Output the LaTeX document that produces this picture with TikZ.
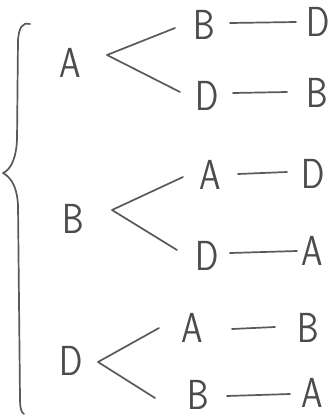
\documentclass[tikz,border=0pt]{standalone}
\begin{document}
\begin{tikzpicture}[x=1pt,y=-1pt,
  ink/.style={draw=black!65, line width=1.7pt, line cap=round, line join=round},
  letter/.style={inner sep=0pt, text=black!70, font=\sffamily\fontsize{42}{42}\selectfont, xscale=0.82}]
\useasboundingbox (0,0) rectangle (329,418);
% level 1
\node[letter] (A) at (70,63) {A};
\node[letter] (B) at (73,219) {B};
\node[letter] (D) at (71,361) {D};
% level 2
\node[letter] (AB) at (204,25) {B};
\node[letter] (AD) at (207,96) {D};
\node[letter] (BA) at (210,175) {A};
\node[letter] (BD) at (207,256) {D};
\node[letter] (DA) at (192,328) {A};
\node[letter] (DB) at (198,395) {B};
% level 3
\node[letter] (ABD) at (318,22) {D};
\node[letter] (ADB) at (317,93) {B};
\node[letter] (BAD) at (313,174) {D};
\node[letter] (BDA) at (312,251) {A};
\node[letter] (DAB) at (308,328) {B};
\node[letter] (DBA) at (312,393) {A};
% branch coordinates
\coordinate (vA) at (107,55);  \coordinate (vAu) at (175,28); \coordinate (vAd) at (180,92);
\coordinate (vB) at (112,210); \coordinate (vBu) at (183,177); \coordinate (vBd) at (177,250);
\coordinate (vD) at (98,362);  \coordinate (vDu) at (159,328); \coordinate (vDd) at (155,398);
\draw[ink] (vAu) -- (vA) -- (vAd);
\draw[ink] (vBu) -- (vB) -- (vBd);
\draw[ink] (vDu) -- (vD) -- (vDd);
% dashes
\coordinate (h1a) at (230,23);  \coordinate (h1b) at (296,22);
\coordinate (h2a) at (233,93);  \coordinate (h2b) at (287,92);
\coordinate (h3a) at (238,174); \coordinate (h3b) at (287,172);
\coordinate (h4a) at (230,253); \coordinate (h4b) at (297,251);
\coordinate (h5a) at (232,329); \coordinate (h5b) at (275,327);
\coordinate (h6a) at (227,396); \coordinate (h6b) at (290,394);
\draw[ink] (h1a) -- (h1b);
\draw[ink] (h2a) -- (h2b);
\draw[ink] (h3a) -- (h3b);
\draw[ink] (h4a) -- (h4b);
\draw[ink] (h5a) -- (h5b);
\draw[ink] (h6a) -- (h6b);
% brace
\coordinate (bt) at (30,24);
\coordinate (bm) at (3,173);
\coordinate (bb) at (24,414);
\draw[ink] (bt) .. controls (22,22) and (19,28) .. (18,40)
  -- (17,140) .. controls (16,160) and (10,170) .. (bm)
  .. controls (12,178) and (17,188) .. (18,205)
  -- (20,398) .. controls (20,408) and (21,412) .. (bb);
\end{tikzpicture}
\end{document}
